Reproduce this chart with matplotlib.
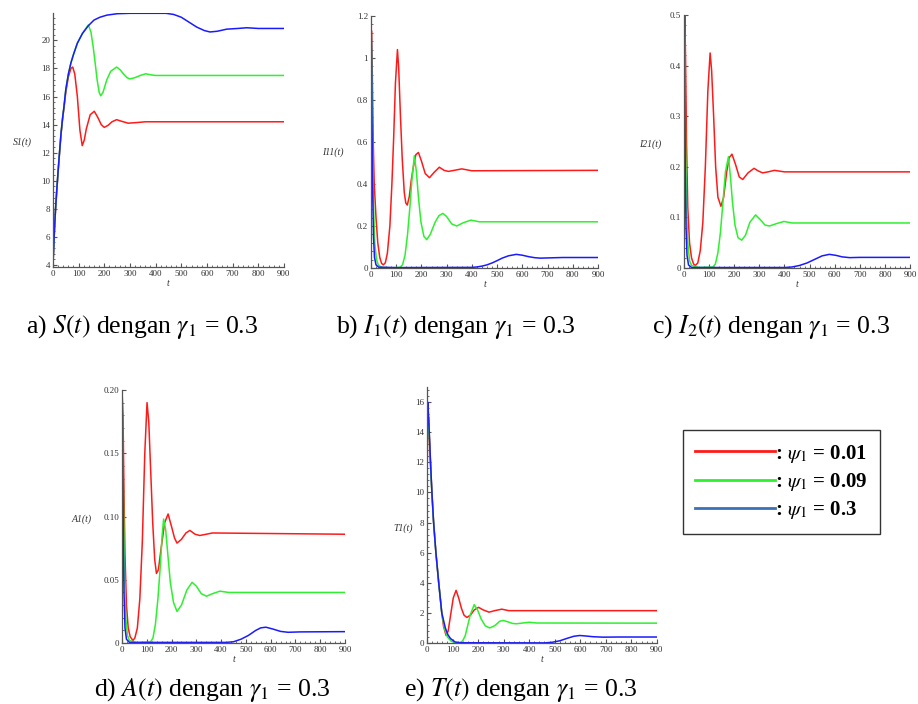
import matplotlib
matplotlib.use("Agg")
import matplotlib.pyplot as plt
from matplotlib.lines import Line2D
from matplotlib.ticker import MultipleLocator, FormatStrFormatter

plt.rcParams['font.family'] = ['Liberation Serif', 'DejaVu Serif']
plt.rcParams['mathtext.fontset'] = 'stix'

RED = '#ff1a1a'
GREEN = '#2ef02e'
BLUE = '#1a1aff'
LEG_BLUE = '#3a70b8'

# ---- a) S(t) ----
s_red_t = [0, 3, 6, 10, 15, 20, 25, 31, 37, 43, 50, 60, 70, 77, 85, 95, 105, 114, 122, 130, 145, 161,
           175, 188, 200, 215, 230, 248, 265, 293, 330, 360, 900]
s_red = [4.0, 5.3, 6.5, 7.9, 9.3, 10.6, 11.8, 13.2, 14.3, 15.2, 16.3, 17.4, 18.0, 18.1, 17.6, 16.0, 13.6,
         12.5, 12.9, 13.7, 14.7, 14.95, 14.5, 14.0, 13.8, 13.95, 14.2, 14.35, 14.25, 14.1, 14.15, 14.2, 14.2]
s_green_t = [0, 3, 6, 10, 15, 20, 25, 31, 37, 43, 50, 60, 70, 80, 95, 115, 128, 138, 148, 157, 165, 172,
             180, 186, 195, 210, 225, 248, 262, 275, 288, 300, 320, 340, 361, 380, 400, 900]
s_green = [4.0, 5.3, 6.6, 8.0, 9.4, 10.7, 11.9, 13.3, 14.4, 15.3, 16.5, 17.6, 18.4, 19.0, 19.8, 20.5, 20.85,
           21.1, 20.6, 19.5, 18.3, 17.2, 16.3, 16.05, 16.3, 17.2, 17.8, 18.1, 17.9, 17.6, 17.35, 17.25,
           17.35, 17.5, 17.62, 17.55, 17.5, 17.5]
s_blue_t = [0, 3, 6, 10, 15, 20, 25, 31, 37, 43, 50, 60, 70, 80, 95, 115, 138, 160, 183, 210, 250, 300,
            440, 470, 500, 530, 560, 590, 612, 640, 677, 720, 755, 800, 900]
s_blue = [4.0, 5.3, 6.6, 8.0, 9.4, 10.7, 11.9, 13.3, 14.4, 15.3, 16.5, 17.6, 18.4, 19.0, 19.8, 20.5, 21.05,
          21.45, 21.65, 21.8, 21.9, 21.93, 21.93, 21.85, 21.65, 21.3, 20.95, 20.7, 20.6, 20.65, 20.8,
          20.85, 20.9, 20.85, 20.85]

# ---- b) I1(t) ----
i1_red_t = [0, 2, 5, 9, 13, 20, 27, 35, 42, 49, 57, 65, 75, 83, 90, 97, 105, 110, 117, 124, 132, 138, 144,
            152, 160, 168, 178, 188, 200, 215, 232, 250, 271, 290, 307, 330, 360, 400, 900]
i1_red = [0.95, 1.13, 0.95, 0.6, 0.4, 0.24, 0.12, 0.05, 0.022, 0.015, 0.025, 0.07, 0.2, 0.4, 0.62, 0.88,
          1.04, 0.95, 0.72, 0.52, 0.36, 0.31, 0.30, 0.34, 0.42, 0.48, 0.54, 0.55, 0.51, 0.45, 0.43, 0.455,
          0.48, 0.465, 0.46, 0.465, 0.472, 0.463, 0.465]
i1_green_t = [0, 3, 6, 10, 15, 22, 30, 45, 80, 115, 125, 135, 145, 155, 163, 172, 180, 188, 198, 210, 221,
              235, 255, 270, 285, 300, 320, 340, 365, 396, 430, 900]
i1_green = [1.2, 1.0, 0.6, 0.3, 0.12, 0.04, 0.012, 0.003, 0.001, 0.003, 0.015, 0.06, 0.16, 0.3, 0.43,
            0.535, 0.46, 0.34, 0.22, 0.15, 0.135, 0.16, 0.22, 0.25, 0.26, 0.245, 0.21, 0.2, 0.215, 0.228,
            0.22, 0.22]
i1_blue_t = [0, 2, 4, 7, 10, 14, 20, 30, 100, 400, 420, 440, 460, 480, 500, 520, 545, 576, 600, 625, 650,
             671, 700, 760, 900]
i1_blue = [1.2, 1.05, 0.7, 0.35, 0.15, 0.05, 0.015, 0.004, 0.002, 0.003, 0.005, 0.009, 0.015, 0.024,
           0.035, 0.047, 0.058, 0.065, 0.061, 0.054, 0.049, 0.047, 0.048, 0.05, 0.05]

# ---- c) I2(t) ----
i2_red_t = [0, 3, 6, 10, 15, 22, 30, 38, 45, 55, 65, 75, 85, 95, 104, 110, 118, 126, 135, 147, 158, 170,
            180, 191, 205, 220, 234, 255, 279, 295, 313, 335, 360, 400, 900]
i2_red = [0.3, 0.5, 0.42, 0.25, 0.12, 0.05, 0.02, 0.008, 0.005, 0.01, 0.035, 0.09, 0.2, 0.35, 0.425, 0.39,
          0.3, 0.2, 0.14, 0.122, 0.14, 0.19, 0.218, 0.225, 0.205, 0.18, 0.175, 0.188, 0.197, 0.192, 0.188,
          0.19, 0.193, 0.19, 0.19]
i2_green_t = [0, 3, 6, 10, 15, 22, 30, 60, 115, 125, 135, 145, 155, 165, 177, 185, 193, 203, 215, 230, 245,
              262, 285, 305, 322, 340, 370, 398, 430, 900]
i2_green = [0.5, 0.42, 0.25, 0.12, 0.05, 0.015, 0.005, 0.001, 0.002, 0.008, 0.03, 0.07, 0.13, 0.19, 0.22,
            0.18, 0.13, 0.085, 0.06, 0.055, 0.065, 0.09, 0.105, 0.095, 0.085, 0.083, 0.088, 0.092, 0.089,
            0.089]
i2_blue_t = [0, 2, 5, 8, 12, 18, 30, 400, 430, 460, 490, 520, 550, 579, 605, 630, 660, 700, 900]
i2_blue = [0.5, 0.4, 0.2, 0.08, 0.025, 0.006, 0.001, 0.001, 0.002, 0.005, 0.01, 0.017, 0.024, 0.027,
           0.025, 0.022, 0.0205, 0.021, 0.021]

# ---- d) A(t) ----
a_red_t = [0, 4, 8, 12, 18, 25, 33, 44, 52, 62, 72, 82, 92, 101, 108, 116, 124, 132, 139, 147, 158, 172,
           186, 200, 212, 222, 240, 258, 274, 295, 314, 340, 365, 900]
a_red = [0.2, 0.18, 0.12, 0.07, 0.03, 0.012, 0.005, 0.002, 0.004, 0.012, 0.035, 0.08, 0.15, 0.19, 0.175,
         0.135, 0.095, 0.066, 0.055, 0.058, 0.075, 0.095, 0.102, 0.092, 0.083, 0.079, 0.082, 0.087, 0.089,
         0.086, 0.085, 0.086, 0.087, 0.086]
a_green_t = [0, 3, 6, 10, 15, 22, 30, 60, 115, 125, 135, 145, 155, 162, 168, 176, 185, 195, 208, 222, 240,
             262, 283, 300, 320, 341, 365, 395, 430, 900]
a_green = [0.2, 0.17, 0.11, 0.055, 0.02, 0.006, 0.002, 0.0003, 0.0008, 0.004, 0.015, 0.035, 0.062, 0.085,
           0.098, 0.09, 0.07, 0.048, 0.032, 0.025, 0.03, 0.042, 0.048, 0.045, 0.039, 0.037, 0.039, 0.041,
           0.04, 0.04]
a_blue_t = [0, 2, 5, 8, 12, 18, 30, 420, 450, 480, 510, 540, 560, 581, 610, 640, 670, 720, 900]
a_blue = [0.2, 0.17, 0.09, 0.04, 0.012, 0.003, 0.0005, 0.0005, 0.001, 0.003, 0.006, 0.01, 0.012, 0.0125,
          0.011, 0.0092, 0.0085, 0.0088, 0.009]

# ---- e) T(t) ----
t_red_t = [0, 3, 6, 10, 15, 20, 26, 35, 46, 52, 58, 65, 75, 83, 92, 103, 114, 124, 135, 145, 156, 170, 185,
           202, 220, 243, 265, 293, 320, 900]
t_red = [10.5, 14.5, 15.0, 13.5, 11.5, 9.8, 8.0, 6.0, 4.0, 3.0, 2.0, 1.1, 0.5, 0.8, 1.8, 3.0, 3.5, 3.0,
         2.3, 1.85, 1.7, 1.85, 2.2, 2.37, 2.2, 2.05, 2.15, 2.25, 2.15, 2.15]
t_green_t = [0, 3, 6, 10, 15, 20, 26, 35, 46, 58, 68, 80, 95, 110, 130, 140, 150, 160, 170, 185, 198, 212,
             228, 245, 265, 285, 299, 318, 335, 351, 375, 400, 430, 900]
t_green = [12.5, 15.5, 14.8, 13.3, 11.4, 9.7, 8.0, 6.0, 4.0, 2.0, 1.0, 0.4, 0.12, 0.03, 0.03, 0.15, 0.5,
           1.2, 1.9, 2.55, 2.2, 1.6, 1.15, 1.0, 1.15, 1.45, 1.5, 1.4, 1.3, 1.28, 1.33, 1.38, 1.33, 1.32]
t_blue_t = [0, 3, 6, 10, 15, 20, 26, 35, 46, 58, 72, 82, 92, 110, 130, 460, 490, 520, 550, 575, 598, 620,
            650, 690, 750, 900]
t_blue = [13.0, 16.0, 15.2, 13.6, 11.6, 9.8, 8.0, 6.0, 4.0, 2.0, 1.0, 0.55, 0.3, 0.07, 0.02, 0.01, 0.05,
          0.15, 0.32, 0.45, 0.5, 0.47, 0.42, 0.39, 0.4, 0.4]

legend_labels = [r': $\psi_1$ = 0.01', r': $\psi_1$ = 0.09', r': $\psi_1$ = 0.3']
captions = [r'a) $S(t)$ dengan $\gamma_1$ = 0.3', r'b) $I_1(t)$ dengan $\gamma_1$ = 0.3',
            r'c) $I_2(t)$ dengan $\gamma_1$ = 0.3', r'd) $A(t)$ dengan $\gamma_1$ = 0.3',
            r'e) $T(t)$ dengan $\gamma_1$ = 0.3']

fig = plt.figure(figsize=(9.18, 7.04), dpi=100)

panels = [
    # rect, series, ylim, ymajor, ylabel, label x, label y, caption pos
    ([0.0577, 0.6207, 0.2516, 0.3608],
     [(s_red_t, s_red), (s_green_t, s_green), (s_blue_t, s_blue)],
     (3.85, 21.95), 2, 'S1(t)', -0.09, 0.49, (0.155, 0.535)),
    ([0.4041, 0.6193, 0.2473, 0.3580],
     [(i1_red_t, i1_red), (i1_green_t, i1_green), (i1_blue_t, i1_blue)],
     (0, 1.2), 0.2, 'I11(t)', -0.12, 0.46, (0.497, 0.535)),
    ([0.7451, 0.6193, 0.2462, 0.3594],
     [(i2_red_t, i2_red), (i2_green_t, i2_green), (i2_blue_t, i2_blue)],
     (0, 0.5), 0.1, 'I21(t)', -0.10, 0.49, (0.840, 0.535)),
    ([0.1329, 0.0866, 0.2429, 0.3594],
     [(a_red_t, a_red), (a_green_t, a_green), (a_blue_t, a_blue)],
     (0, 0.2), 0.05, 'A1(t)', -0.135, 0.49, (0.231, 0.020)),
    ([0.4651, 0.0866, 0.2505, 0.3636],
     [(t_red_t, t_red), (t_green_t, t_green), (t_blue_t, t_blue)],
     (0, 17.0), 2, 'T1(t)', -0.06, 0.45, (0.567, 0.020)),
]

for i, (rect, series, ylim, ymaj, ylab, lx, ly, cpos) in enumerate(panels):
    ax = fig.add_axes(rect)
    for (tt, vv), c in zip(series, [RED, GREEN, BLUE]):
        ax.plot(tt, vv, color=c, lw=1.1)
    ax.set_xlim(0, 900)
    ax.set_ylim(*ylim)
    ax.xaxis.set_major_locator(MultipleLocator(100))
    ax.xaxis.set_minor_locator(MultipleLocator(20))
    ax.yaxis.set_major_locator(MultipleLocator(ymaj))
    ax.yaxis.set_minor_locator(MultipleLocator(ymaj / 5))
    ax.yaxis.set_major_formatter(FormatStrFormatter('%g'))
    for s in ['top', 'right']:
        ax.spines[s].set_visible(False)
    for s in ['left', 'bottom']:
        ax.spines[s].set_color('#555555')
        ax.spines[s].set_linewidth(0.9)
    ax.tick_params(which='both', direction='in', colors='#555555', labelcolor='#333333',
                   labelsize=6.5, pad=2)
    ax.tick_params(which='major', length=3)
    ax.tick_params(which='minor', length=1.5)
    if i == 3:
        ax.set_yticks([0, 0.05, 0.10, 0.15, 0.20])
        ax.set_yticklabels(['0', '0.05', '0.10', '0.15', '0.20'])
    ax.set_ylabel(ylab, rotation=0, ha='right', va='center', fontsize=7, style='italic',
                  color='#333333')
    ax.yaxis.set_label_coords(lx, ly)
    ax.set_xlabel('t', fontsize=7, style='italic', color='#333333', labelpad=1)
    fig.text(cpos[0], cpos[1], captions[i], ha='center', va='center', fontsize=18.5)

handles = [Line2D([], [], color=RED, lw=2), Line2D([], [], color=GREEN, lw=2),
           Line2D([], [], color=LEG_BLUE, lw=2)]
fig.legend(handles, legend_labels, loc='upper left', bbox_to_anchor=(0.744, 0.389),
           frameon=True, fancybox=False, edgecolor='black', borderaxespad=0,
           handlelength=3.8, handletextpad=0.0, labelspacing=0.3, borderpad=0.6,
           prop={'size': 15, 'weight': 'bold'})

fig.savefig('out.png', dpi=100)
